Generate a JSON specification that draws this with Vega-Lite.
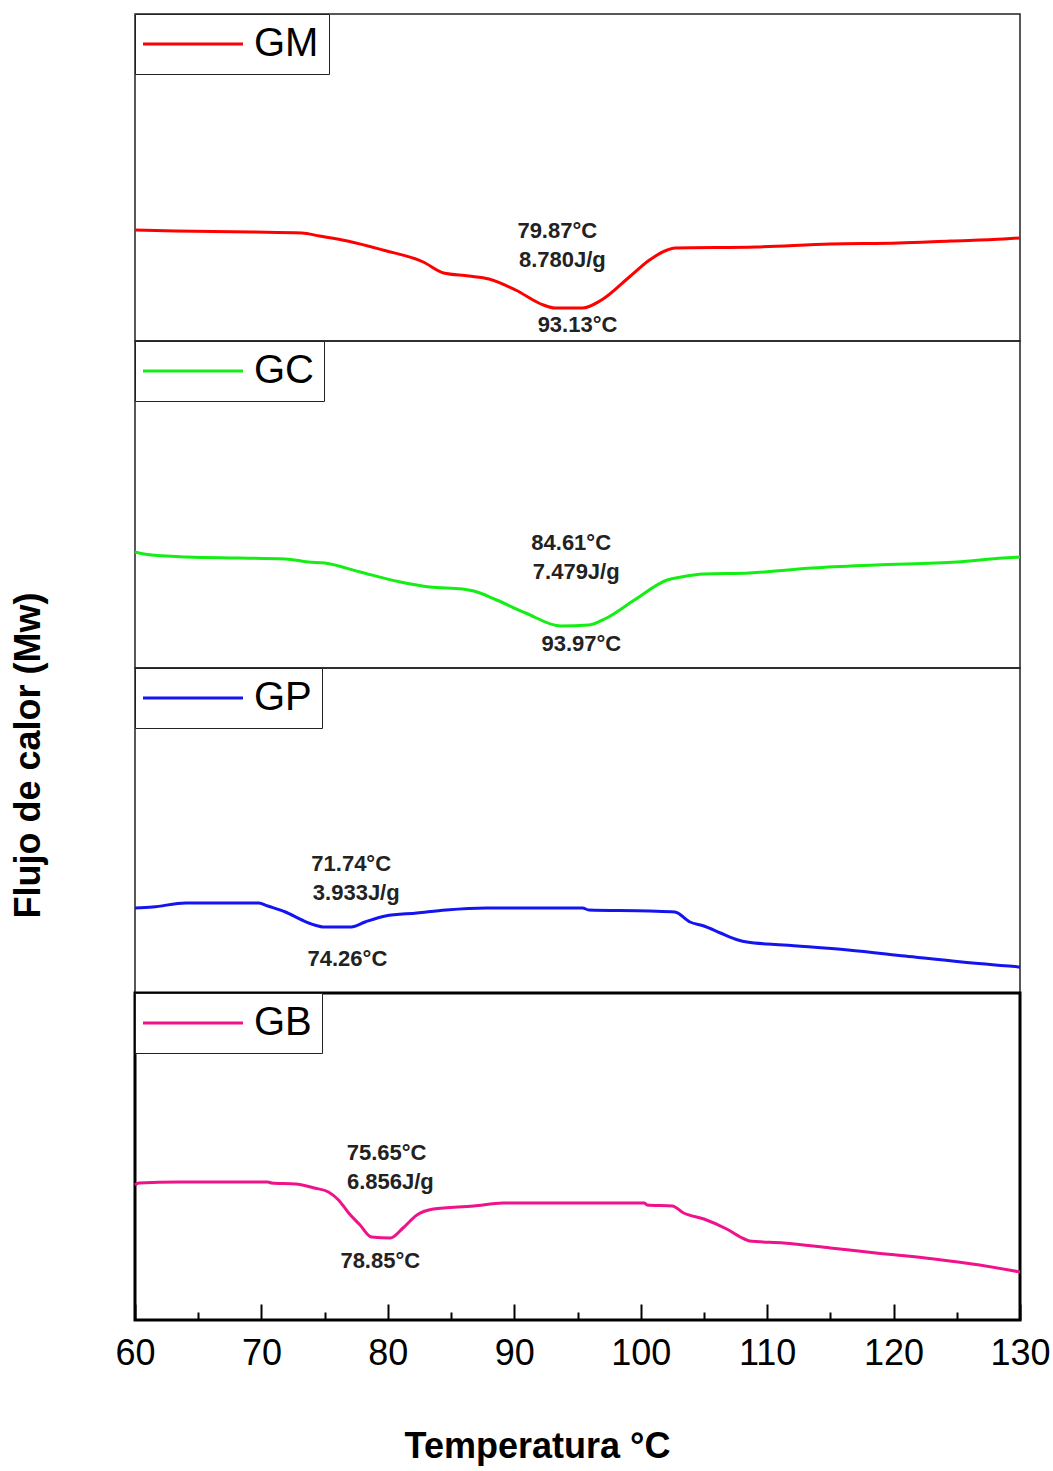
{
  "$schema": "https://vega.github.io/schema/vega-lite/v6.json",
  "background": "white",
  "padding": {"left": 8, "top": 12, "right": 30, "bottom": 10},
  "spacing": 0,
  "bounds": "flush",
  "config": {
    "font": "Liberation Sans",
    "view": {"stroke": "#222222", "strokeWidth": 1.5},
    "legend": {
      "orient": "top-left",
      "offset": 0,
      "title": null,
      "strokeColor": "#222222",
      "fillColor": "white",
      "padding": 10,
      "labelFont": "Liberation Sans",
      "labelFontSize": 40,
      "labelColor": "black",
      "labelOffset": 41,
      "symbolType": "M-5,0H5",
      "symbolSize": 400,
      "symbolOffset": 28,
      "symbolStrokeWidth": 3
    },
    "axisY": {
      "labels": false,
      "ticks": false,
      "domain": false,
      "grid": false,
      "titleFont": "Liberation Sans",
      "titleFontSize": 36,
      "titleFontWeight": "bold",
      "titlePadding": 88
    },
    "axisX": {"grid": false}
  },
  "resolve": {
    "scale": {"color": "independent", "y": "independent", "x": "independent"},
    "legend": {"color": "independent"}
  },
  "datasets": {
    "dsc": [
      {"muestra": "GM", "temperatura": 60.0, "flujo": 11.1},
      {"muestra": "GM", "temperatura": 63.2, "flujo": 11.0},
      {"muestra": "GM", "temperatura": 69.3, "flujo": 10.9},
      {"muestra": "GM", "temperatura": 73.2, "flujo": 10.8},
      {"muestra": "GM", "temperatura": 74.6, "flujo": 10.5},
      {"muestra": "GM", "temperatura": 76.8, "flujo": 10.0},
      {"muestra": "GM", "temperatura": 79.6, "flujo": 9.1},
      {"muestra": "GM", "temperatura": 82.8, "flujo": 7.9},
      {"muestra": "GM", "temperatura": 84.4, "flujo": 6.8},
      {"muestra": "GM", "temperatura": 86.4, "flujo": 6.5},
      {"muestra": "GM", "temperatura": 88.0, "flujo": 6.2},
      {"muestra": "GM", "temperatura": 90.1, "flujo": 5.1},
      {"muestra": "GM", "temperatura": 92.3, "flujo": 3.6},
      {"muestra": "GM", "temperatura": 93.2, "flujo": 3.3},
      {"muestra": "GM", "temperatura": 95.4, "flujo": 3.3},
      {"muestra": "GM", "temperatura": 96.9, "flujo": 4.1},
      {"muestra": "GM", "temperatura": 99.1, "flujo": 6.4},
      {"muestra": "GM", "temperatura": 100.7, "flujo": 8.1},
      {"muestra": "GM", "temperatura": 102.1, "flujo": 9.1},
      {"muestra": "GM", "temperatura": 102.7, "flujo": 9.3},
      {"muestra": "GM", "temperatura": 109.1, "flujo": 9.4},
      {"muestra": "GM", "temperatura": 115.0, "flujo": 9.7},
      {"muestra": "GM", "temperatura": 120.4, "flujo": 9.8},
      {"muestra": "GM", "temperatura": 124.5, "flujo": 10.0},
      {"muestra": "GM", "temperatura": 128.7, "flujo": 10.2},
      {"muestra": "GM", "temperatura": 130.0, "flujo": 10.3},

      {"muestra": "GC", "temperatura": 60.0, "flujo": 11.6},
      {"muestra": "GC", "temperatura": 60.7, "flujo": 11.4},
      {"muestra": "GC", "temperatura": 64.1, "flujo": 11.1},
      {"muestra": "GC", "temperatura": 68.2, "flujo": 11.0},
      {"muestra": "GC", "temperatura": 71.9, "flujo": 10.9},
      {"muestra": "GC", "temperatura": 73.7, "flujo": 10.6},
      {"muestra": "GC", "temperatura": 75.0, "flujo": 10.5},
      {"muestra": "GC", "temperatura": 77.8, "flujo": 9.6},
      {"muestra": "GC", "temperatura": 81.0, "flujo": 8.6},
      {"muestra": "GC", "temperatura": 83.3, "flujo": 8.1},
      {"muestra": "GC", "temperatura": 85.9, "flujo": 7.9},
      {"muestra": "GC", "temperatura": 86.8, "flujo": 7.7},
      {"muestra": "GC", "temperatura": 88.6, "flujo": 6.8},
      {"muestra": "GC", "temperatura": 90.9, "flujo": 5.5},
      {"muestra": "GC", "temperatura": 93.7, "flujo": 4.2},
      {"muestra": "GC", "temperatura": 95.9, "flujo": 4.3},
      {"muestra": "GC", "temperatura": 97.3, "flujo": 5.0},
      {"muestra": "GC", "temperatura": 99.5, "flujo": 6.8},
      {"muestra": "GC", "temperatura": 102.1, "flujo": 8.8},
      {"muestra": "GC", "temperatura": 103.2, "flujo": 9.1},
      {"muestra": "GC", "temperatura": 105.0, "flujo": 9.4},
      {"muestra": "GC", "temperatura": 108.6, "flujo": 9.5},
      {"muestra": "GC", "temperatura": 113.6, "flujo": 10.0},
      {"muestra": "GC", "temperatura": 118.6, "flujo": 10.3},
      {"muestra": "GC", "temperatura": 125.0, "flujo": 10.6},
      {"muestra": "GC", "temperatura": 128.7, "flujo": 11.0},
      {"muestra": "GC", "temperatura": 130.0, "flujo": 11.1},

      {"muestra": "GP", "temperatura": 60.0, "flujo": 8.5},
      {"muestra": "GP", "temperatura": 61.4, "flujo": 8.6},
      {"muestra": "GP", "temperatura": 64.0, "flujo": 9.0},
      {"muestra": "GP", "temperatura": 69.8, "flujo": 9.0},
      {"muestra": "GP", "temperatura": 70.5, "flujo": 8.7},
      {"muestra": "GP", "temperatura": 71.9, "flujo": 8.1},
      {"muestra": "GP", "temperatura": 73.2, "flujo": 7.3},
      {"muestra": "GP", "temperatura": 74.2, "flujo": 6.8},
      {"muestra": "GP", "temperatura": 75.0, "flujo": 6.6},
      {"muestra": "GP", "temperatura": 77.1, "flujo": 6.6},
      {"muestra": "GP", "temperatura": 78.2, "flujo": 7.1},
      {"muestra": "GP", "temperatura": 79.8, "flujo": 7.7},
      {"muestra": "GP", "temperatura": 82.3, "flujo": 8.0},
      {"muestra": "GP", "temperatura": 84.6, "flujo": 8.3},
      {"muestra": "GP", "temperatura": 87.8, "flujo": 8.5},
      {"muestra": "GP", "temperatura": 95.4, "flujo": 8.5},
      {"muestra": "GP", "temperatura": 95.9, "flujo": 8.3},
      {"muestra": "GP", "temperatura": 100.7, "flujo": 8.2},
      {"muestra": "GP", "temperatura": 102.7, "flujo": 8.1},
      {"muestra": "GP", "temperatura": 103.9, "flujo": 7.1},
      {"muestra": "GP", "temperatura": 105.0, "flujo": 6.7},
      {"muestra": "GP", "temperatura": 106.3, "flujo": 6.0},
      {"muestra": "GP", "temperatura": 107.7, "flujo": 5.3},
      {"muestra": "GP", "temperatura": 108.4, "flujo": 5.1},
      {"muestra": "GP", "temperatura": 111.3, "flujo": 4.8},
      {"muestra": "GP", "temperatura": 116.4, "flujo": 4.3},
      {"muestra": "GP", "temperatura": 120.9, "flujo": 3.7},
      {"muestra": "GP", "temperatura": 125.4, "flujo": 3.1},
      {"muestra": "GP", "temperatura": 130.0, "flujo": 2.6},

      {"muestra": "GB", "temperatura": 60.0, "flujo": 13.5},
      {"muestra": "GB", "temperatura": 60.3, "flujo": 13.7},
      {"muestra": "GB", "temperatura": 63.5, "flujo": 13.8},
      {"muestra": "GB", "temperatura": 70.5, "flujo": 13.8},
      {"muestra": "GB", "temperatura": 70.8, "flujo": 13.7},
      {"muestra": "GB", "temperatura": 72.7, "flujo": 13.6},
      {"muestra": "GB", "temperatura": 74.2, "flujo": 13.2},
      {"muestra": "GB", "temperatura": 75.3, "flujo": 12.8},
      {"muestra": "GB", "temperatura": 76.1, "flujo": 12.0},
      {"muestra": "GB", "temperatura": 76.9, "flujo": 10.7},
      {"muestra": "GB", "temperatura": 77.8, "flujo": 9.5},
      {"muestra": "GB", "temperatura": 78.7, "flujo": 8.3},
      {"muestra": "GB", "temperatura": 80.2, "flujo": 8.2},
      {"muestra": "GB", "temperatura": 81.2, "flujo": 9.2},
      {"muestra": "GB", "temperatura": 82.3, "flujo": 10.5},
      {"muestra": "GB", "temperatura": 83.6, "flujo": 11.1},
      {"muestra": "GB", "temperatura": 86.8, "flujo": 11.4},
      {"muestra": "GB", "temperatura": 89.1, "flujo": 11.7},
      {"muestra": "GB", "temperatura": 100.3, "flujo": 11.7},
      {"muestra": "GB", "temperatura": 100.5, "flujo": 11.5},
      {"muestra": "GB", "temperatura": 102.5, "flujo": 11.4},
      {"muestra": "GB", "temperatura": 103.4, "flujo": 10.7},
      {"muestra": "GB", "temperatura": 105.0, "flujo": 10.1},
      {"muestra": "GB", "temperatura": 106.8, "flujo": 9.1},
      {"muestra": "GB", "temperatura": 108.2, "flujo": 8.1},
      {"muestra": "GB", "temperatura": 108.6, "flujo": 7.9},
      {"muestra": "GB", "temperatura": 111.3, "flujo": 7.7},
      {"muestra": "GB", "temperatura": 115.0, "flujo": 7.2},
      {"muestra": "GB", "temperatura": 118.6, "flujo": 6.7},
      {"muestra": "GB", "temperatura": 123.2, "flujo": 6.1},
      {"muestra": "GB", "temperatura": 126.8, "flujo": 5.5},
      {"muestra": "GB", "temperatura": 130.0, "flujo": 4.8}
    ],
    "notas": [
      {"muestra": "GM", "temperatura": 93.4, "flujo": 11.0, "texto": "79.87°C"},
      {"muestra": "GM", "temperatura": 93.8, "flujo": 8.1, "texto": "8.780J/g"},
      {"muestra": "GM", "temperatura": 95.0, "flujo": 1.6, "texto": "93.13°C"},
      {"muestra": "GC", "temperatura": 94.5, "flujo": 12.5, "texto": "84.61°C"},
      {"muestra": "GC", "temperatura": 94.9, "flujo": 9.6, "texto": "7.479J/g"},
      {"muestra": "GC", "temperatura": 95.3, "flujo": 2.4, "texto": "93.97°C"},
      {"muestra": "GP", "temperatura": 77.1, "flujo": 12.9, "texto": "71.74°C"},
      {"muestra": "GP", "temperatura": 77.5, "flujo": 10.0, "texto": "3.933J/g"},
      {"muestra": "GP", "temperatura": 76.8, "flujo": 3.4, "texto": "74.26°C"},
      {"muestra": "GB", "temperatura": 79.9, "flujo": 16.7, "texto": "75.65°C"},
      {"muestra": "GB", "temperatura": 80.2, "flujo": 13.8, "texto": "6.856J/g"},
      {"muestra": "GB", "temperatura": 79.4, "flujo": 5.9, "texto": "78.85°C"}
    ]
  },
  "vconcat": [
    {
      "width": 885,
      "height": 327,
      "layer": [
        {
          "data": {"name": "dsc"},
          "transform": [{"filter": "datum.muestra === 'GM'"}],
          "mark": {"type": "line", "strokeWidth": 3, "interpolate": "monotone"},
          "encoding": {
            "x": {"field": "temperatura", "type": "quantitative", "scale": {"domain": [60, 130], "nice": false, "zero": false}, "axis": null},
            "y": {"field": "flujo", "type": "quantitative", "scale": {"domain": [0, 32.7], "nice": false, "zero": false}, "axis": {"title": "Flujo de calor (Mw)", "titleColor": "transparent"}},
            "color": {"field": "muestra", "type": "nominal", "scale": {"domain": ["GM"], "range": ["#ff0000"]}}
          }
        },
        {
          "data": {"name": "notas"},
          "transform": [{"filter": "datum.muestra === 'GM'"}],
          "mark": {"type": "text", "fontSize": 22, "fontWeight": "bold", "color": "#222222", "align": "center", "baseline": "middle"},
          "encoding": {
            "x": {"field": "temperatura", "type": "quantitative"},
            "y": {"field": "flujo", "type": "quantitative"},
            "text": {"field": "texto", "type": "nominal"}
          }
        }
      ]
    },
    {
      "width": 885,
      "height": 327,
      "layer": [
        {
          "data": {"name": "dsc"},
          "transform": [{"filter": "datum.muestra === 'GC'"}],
          "mark": {"type": "line", "strokeWidth": 3, "interpolate": "monotone"},
          "encoding": {
            "x": {"field": "temperatura", "type": "quantitative", "scale": {"domain": [60, 130], "nice": false, "zero": false}, "axis": null},
            "y": {"field": "flujo", "type": "quantitative", "scale": {"domain": [0, 32.7], "nice": false, "zero": false}, "axis": {"title": "Flujo de calor (Mw)", "titleColor": "transparent"}},
            "color": {"field": "muestra", "type": "nominal", "scale": {"domain": ["GC"], "range": ["#14ee14"]}}
          }
        },
        {
          "data": {"name": "notas"},
          "transform": [{"filter": "datum.muestra === 'GC'"}],
          "mark": {"type": "text", "fontSize": 22, "fontWeight": "bold", "color": "#222222", "align": "center", "baseline": "middle"},
          "encoding": {
            "x": {"field": "temperatura", "type": "quantitative"},
            "y": {"field": "flujo", "type": "quantitative"},
            "text": {"field": "texto", "type": "nominal"}
          }
        }
      ]
    },
    {
      "width": 885,
      "height": 325,
      "layer": [
        {
          "data": {"name": "dsc"},
          "transform": [{"filter": "datum.muestra === 'GP'"}],
          "mark": {"type": "line", "strokeWidth": 3, "interpolate": "monotone"},
          "encoding": {
            "x": {"field": "temperatura", "type": "quantitative", "scale": {"domain": [60, 130], "nice": false, "zero": false}, "axis": null},
            "y": {"field": "flujo", "type": "quantitative", "scale": {"domain": [0, 32.5], "nice": false, "zero": false}, "axis": {"title": "Flujo de calor (Mw)", "titleColor": "black", "titleY": 87}},
            "color": {"field": "muestra", "type": "nominal", "scale": {"domain": ["GP"], "range": ["#1414f0"]}}
          }
        },
        {
          "data": {"name": "notas"},
          "transform": [{"filter": "datum.muestra === 'GP'"}],
          "mark": {"type": "text", "fontSize": 22, "fontWeight": "bold", "color": "#222222", "align": "center", "baseline": "middle"},
          "encoding": {
            "x": {"field": "temperatura", "type": "quantitative"},
            "y": {"field": "flujo", "type": "quantitative"},
            "text": {"field": "texto", "type": "nominal"}
          }
        }
      ]
    },
    {
      "width": 885,
      "height": 327,
      "view": {"stroke": "black", "strokeWidth": 3},
      "resolve": {"axis": {"x": "independent"}},
      "layer": [
        {
          "data": {"name": "dsc"},
          "transform": [{"filter": "datum.muestra === 'GB'"}],
          "mark": {"type": "line", "strokeWidth": 3, "interpolate": "monotone"},
          "encoding": {
            "x": {
              "field": "temperatura", "type": "quantitative",
              "scale": {"domain": [60, 130], "nice": false, "zero": false},
              "axis": {
                "orient": "bottom",
                "zindex": 1,
                "values": [60, 70, 80, 90, 100, 110, 120, 130],
                "domain": false,
                "tickSize": -16,
                "tickWidth": 2,
                "tickColor": "black",
                "labelFont": "Liberation Sans",
                "labelFontSize": 36,
                "labelColor": "black",
                "labelPadding": 32,
                "labelFlush": false,
                "title": "Temperatura °C",
                "titleFont": "Liberation Sans",
                "titleFontSize": 36,
                "titleFontWeight": "bold",
                "titleColor": "black",
                "titlePadding": 58,
                "titleX": 402
              }
            },
            "y": {"field": "flujo", "type": "quantitative", "scale": {"domain": [0, 32.7], "nice": false, "zero": false}, "axis": {"title": "Flujo de calor (Mw)", "titleColor": "transparent"}},
            "color": {"field": "muestra", "type": "nominal", "scale": {"domain": ["GB"], "range": ["#f0128a"]}}
          }
        },
        {
          "data": {"name": "notas"},
          "transform": [{"filter": "datum.muestra === 'GB'"}],
          "mark": {"type": "text", "fontSize": 22, "fontWeight": "bold", "color": "#222222", "align": "center", "baseline": "middle"},
          "encoding": {
            "x": {
              "field": "temperatura", "type": "quantitative",
              "axis": {
                "orient": "bottom",
                "zindex": 1,
                "values": [65, 75, 85, 95, 105, 115, 125],
                "domain": false,
                "labels": false,
                "tickSize": -8,
                "tickWidth": 2,
                "tickColor": "black",
                "title": null
              }
            },
            "y": {"field": "flujo", "type": "quantitative"},
            "text": {"field": "texto", "type": "nominal"}
          }
        }
      ]
    }
  ]
}
